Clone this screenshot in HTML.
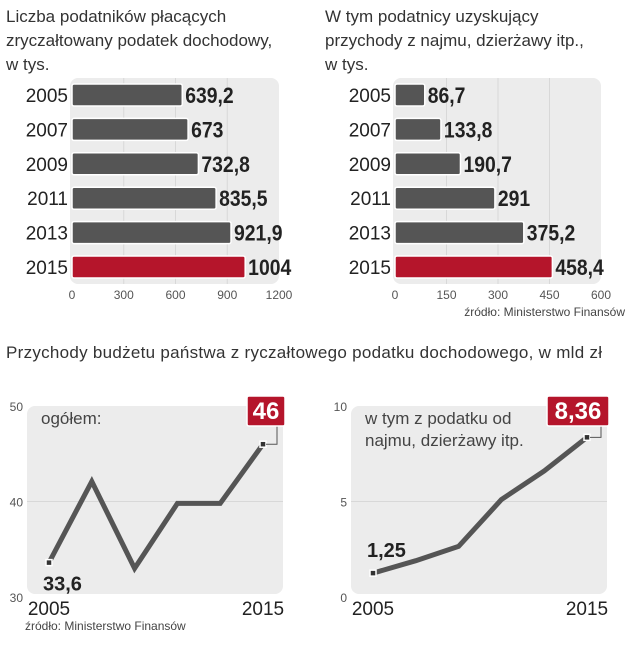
<!DOCTYPE html>
<html><head><meta charset="utf-8"><style>
body{margin:0;background:#fff;font-family:"Liberation Sans",sans-serif;}
svg text{font-family:"Liberation Sans",sans-serif;}
</style></head><body>
<svg id="c" width="629" height="640" viewBox="0 0 629 640">
<text x="6" y="22" font-size="17" fill="#333">Liczba podatników płacących</text>
<text x="6" y="46" font-size="17" fill="#333">zryczałtowany podatek dochodowy,</text>
<text x="6" y="70" font-size="17" fill="#333">w tys.</text>
<text x="325" y="22" font-size="17" fill="#333">W tym podatnicy uzyskujący</text>
<text x="325" y="46" font-size="17" fill="#333">przychody z najmu, dzierżawy itp.,</text>
<text x="325" y="70" font-size="17" fill="#333">w tys.</text>
<text x="625" y="316" font-size="12" fill="#444" text-anchor="end">źródło: Ministerstwo Finansów</text>
<text x="6" y="358" font-size="17" fill="#333" textLength="596">Przychody budżetu państwa z ryczałtowego podatku dochodowego, w mld zł</text>
<text x="25" y="630" font-size="12" fill="#444">źródło: Ministerstwo Finansów</text>
<g id="g"></g>
</svg>
<script>
const years=["2005","2007","2009","2011","2013","2015"];
const leftBarValues=[639.2,673,732.8,835.5,921.9,1004];
const leftBarLabels=["639,2","673","732,8","835,5","921,9","1004"];
const leftTicks=[0,300,600,900,1200];
const rightBarValues=[86.7,133.8,190.7,291,375.2,458.4];
const rightBarLabels=["86,7","133,8","190,7","291","375,2","458,4"];
const rightTicks=[0,150,300,450,600];
const lineYears=[2005,2007,2009,2011,2013,2015];
const totalRevenue=[33.6,42.1,33.0,39.8,39.8,46];
const rentalRevenue=[1.25,1.9,2.65,5.1,6.6,8.36];
const totalTicks=[30,40,50];
const rentalTicks=[0,5,10];

const NS="http://www.w3.org/2000/svg";
const G=document.getElementById('g');
function mk(t,a,p){const e=document.createElementNS(NS,t);for(const k in a)e.setAttribute(k,a[k]);(p||G).appendChild(e);return e;}

function barChart(x0,x1,maxV,vals,labs,ticks,prefix){
  const sx=v=>x0+(v/maxV)*(x1-x0);
  const bg=mk('rect',{x:x0-2,y:78,width:x1-x0+2,height:206,rx:8,fill:'#ececec'});
  
  
  ticks.forEach((t,i)=>{
    if(i>0&&i<ticks.length-1){const l=mk('line',{x1:sx(t),x2:sx(t),y1:78,y2:284,stroke:'#d8d8d8','stroke-width':1});
    
    }
    const tx=mk('text',{x:sx(t),y:299,'font-size':12,fill:'#555','text-anchor':'middle'});tx.textContent=t;
    
    
  });
  vals.forEach((v,i)=>{
    const cy=95+i*34.4;
    const yl=mk('text',{x:x0-4,y:cy+7,'font-size':19,fill:'#222','text-anchor':'end'});yl.textContent=years[i];
    
    
    const r=mk('rect',{x:x0,y:cy-11,width:sx(v)-x0,height:22,rx:2,fill:i==5?'#b5152b':'#555',stroke:'#fff','stroke-width':1.5});
    
    
    const vl=mk('text',{x:sx(v)+3,y:cy+8,'font-size':22,'font-weight':'bold',fill:'#222',transform:`translate(${sx(v)+3},0) scale(0.88,1) translate(${-(sx(v)+3)},0)`});vl.textContent=labs[i];
    
    
  });
}
barChart(72,279,1200,leftBarValues,leftBarLabels,leftTicks,'left');
barChart(395,601,600,rightBarValues,rightBarLabels,rightTicks,'right');

function lineChart(xa,xb,vmin,vmax,vals,ticks,prefix,firstLab,lastLab,title){
  const sx=y=>xa+(y-2005)/10*(xb-xa);
  const sy=v=>597-(v-vmin)/(vmax-vmin)*(597-406);
  const bg=mk('rect',{x:xa-22,y:406,width:xb-xa+42,height:188,rx:8,fill:'#ececec'});
  
  
  ticks.forEach(t=>{
    if(t!==ticks[0]&&t!==ticks[ticks.length-1]){const l=mk('line',{x1:xa-22,x2:xb+20,y1:sy(t),y2:sy(t),stroke:'#d8d8d8'});
    
    }
    const tx=mk('text',{x:xa-26,y:sy(t)+5,'font-size':12,fill:'#555','text-anchor':'end'});tx.textContent=t;
    
    
  });
  title.forEach((s,i)=>{const t=mk('text',{x:xa-8,y:424+i*22,'font-size':17,fill:'#444'});t.textContent=s;
    
    });
  const pts=vals.map((v,i)=>sx(lineYears[i])+','+sy(v)).join(' ');
  const pl=mk('polyline',{points:pts,fill:'none',stroke:'#555','stroke-width':5,'stroke-linejoin':'miter'});
  
  
  [0,vals.length-1].forEach(i=>{
    const m=mk('rect',{x:sx(lineYears[i])-3,y:sy(vals[i])-3,width:6,height:6,fill:'#333',stroke:'#fff','stroke-width':1.5});
    
    
  });
  const fl=mk('text',{x:sx(2005)-6,y:prefix=='total'?sy(vals[0])+28:sy(vals[0])-16,'font-size':20,'font-weight':'bold',fill:'#222'});fl.textContent=firstLab;
  
  
  const lx=sx(2015),ly=sy(vals[5]);
  const w=prefix=='total'?38:62;
  const bx=xb+22-w;
  const ln=mk('polyline',{points:`${lx+3},${ly} ${bx+w-8},${ly} ${bx+w-8},425`,fill:'none',stroke:'#555','stroke-width':1});
  
  
  const box=mk('rect',{x:bx,y:396,width:w,height:30,rx:2,fill:'#b5152b',stroke:'#fff','stroke-width':1.5});
  
  
  const lt=mk('text',{x:bx+w/2,y:419,'font-size':24,'font-weight':'bold',fill:'#fff','text-anchor':'middle'});lt.textContent=lastLab;
  
  
  [2005,2015].forEach(y=>{const t=mk('text',{x:sx(y),y:615,'font-size':19,fill:'#222','text-anchor':'middle'});t.textContent=y;
    
    });
}
lineChart(49,263,30,50,totalRevenue,totalTicks,'total','33,6','46',['ogółem:']);
lineChart(373,587,0,10,rentalRevenue,rentalTicks,'rental','1,25','8,36',['w tym z podatku od','najmu, dzierżawy itp.']);
</script>
</body></html>
